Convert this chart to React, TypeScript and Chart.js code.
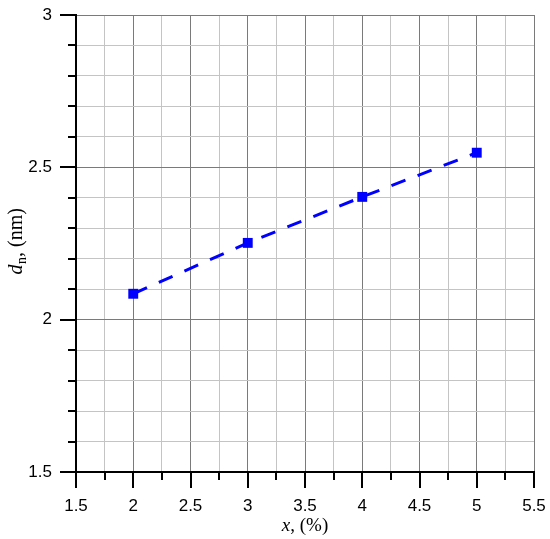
import React, { useEffect, useRef } from "react";
import { Chart, registerables } from "chart.js";

Chart.register(...registerables);

// ---- data ----
const xValues = [2, 3, 4, 5];
const dnValues = [2.085, 2.252, 2.403, 2.548];

// ---- axes ----
const xMin = 1.5;
const xMax = 5.5;
const xStep = 0.25;
const xLabeledTicks = [1.5, 2, 2.5, 3, 3.5, 4, 4.5, 5, 5.5];
const yMin = 1.5;
const yMax = 3;
const yStep = 0.1;
const yLabeledTicks = [1.5, 2, 2.5, 3];

const findLabeled = (v: number, list: number[]) =>
  list.find((t) => Math.abs(t - v) < 1e-6);

const SANS = '"Liberation Sans", Arial, sans-serif';
const SERIF = '"Liberation Serif", "Times New Roman", serif';

const customAxisPlugin = {
  id: "customAxis",
  afterDraw(chart: any) {
    const ctx = chart.ctx;
    const area = chart.chartArea;
    const xs = chart.scales.x;
    const ys = chart.scales.y;
    ctx.save();
    ctx.strokeStyle = "#000";
    ctx.lineWidth = 2;
    // y tick marks
    ys.ticks.forEach((t: any) => {
      const major = findLabeled(t.value, yLabeledTicks) !== undefined;
      const len = major ? 16 : 8;
      const py = Math.round(ys.getPixelForValue(t.value));
      ctx.beginPath();
      ctx.moveTo(area.left - len, py);
      ctx.lineTo(area.left, py);
      ctx.stroke();
    });
    // x tick marks
    xs.ticks.forEach((t: any) => {
      const major = findLabeled(t.value, xLabeledTicks) !== undefined;
      const len = major ? 16 : 8;
      const px = Math.round(xs.getPixelForValue(t.value));
      ctx.beginPath();
      ctx.moveTo(px, area.bottom);
      ctx.lineTo(px, area.bottom + len);
      ctx.stroke();
    });

    ctx.fillStyle = "#000";
    // x title: "x, (%)"
    const cx = (area.left + area.right) / 2;
    ctx.textBaseline = "alphabetic";
    ctx.textAlign = "left";
    ctx.font = `italic 19px ${SERIF}`;
    const wx = ctx.measureText("x").width;
    ctx.font = `19px ${SERIF}`;
    const wrest = ctx.measureText(", (%)").width;
    const sx = cx - (wx + wrest) / 2;
    const by = 531;
    ctx.font = `italic 19px ${SERIF}`;
    ctx.fillText("x", sx, by);
    ctx.font = `19px ${SERIF}`;
    ctx.fillText(", (%)", sx + wx, by);

    // y title: "d_n, (nm)"
    const cy = (area.top + area.bottom) / 2 - 2;
    ctx.translate(22, cy);
    ctx.rotate(-Math.PI / 2);
    ctx.font = `italic 20px ${SERIF}`;
    const wd = ctx.measureText("d").width;
    ctx.font = `14px ${SERIF}`;
    const wn = ctx.measureText("n").width;
    ctx.font = `20px ${SERIF}`;
    const wr = ctx.measureText(", (nm)").width;
    const tx = -(wd + wn + wr) / 2;
    ctx.font = `italic 20px ${SERIF}`;
    ctx.fillText("d", tx, 0);
    ctx.font = `14px ${SERIF}`;
    ctx.fillText("n", tx + wd + 0.5, 4);
    ctx.font = `20px ${SERIF}`;
    ctx.fillText(", (nm)", tx + wd + wn + 0.5, 0);
    ctx.restore();
  },
};

export default function App() {
  const ref = useRef<HTMLCanvasElement | null>(null);

  useEffect(() => {
    if (!ref.current) return;
    const points = xValues.map((x, i) => ({ x, y: dnValues[i] }));
    const chart = new Chart(ref.current, {
      type: "line",
      data: {
        datasets: [
          {
            data: points,
            borderColor: "#0000ff",
            borderWidth: 3,
            borderDash: [15, 13],
            pointStyle: "rect",
            pointRadius: 7,
            pointBorderWidth: 0,
            pointBackgroundColor: "#0000ff",
            fill: false,
            tension: 0,
          },
        ],
      },
      options: {
        responsive: false,
        animation: false,
        layout: { padding: { left: 0, right: 16, top: 15, bottom: 0 } },
        plugins: { legend: { display: false }, tooltip: { enabled: false } },
        scales: {
          x: {
            type: "linear",
            min: xMin,
            max: xMax,
            ticks: {
              stepSize: xStep,
              autoSkip: false,
              maxRotation: 0,
              minRotation: 0,
              padding: 24,
              color: "#000",
              font: { family: SANS, size: 17 },
              callback: (v: any) => {
                const t = findLabeled(Number(v), xLabeledTicks);
                return t === undefined ? "" : String(t);
              },
            },
            grid: {
              drawTicks: false,
              lineWidth: 1,
              color: (c: any) =>
                findLabeled(c.tick.value, xLabeledTicks) !== undefined ? "#7a7a7a" : "#c4c4c4",
            },
            border: { display: true, color: "#000", width: 2 },
            afterFit: (s: any) => {
              s.height = 67;
              s.paddingLeft = 0;
              s.paddingRight = 0;
            },
          },
          y: {
            type: "linear",
            min: yMin,
            max: yMax,
            ticks: {
              stepSize: yStep,
              autoSkip: false,
              padding: 24,
              color: "#000",
              font: { family: SANS, size: 17 },
              callback: (v: any) => {
                const t = findLabeled(Number(v), yLabeledTicks);
                return t === undefined ? "" : String(t);
              },
            },
            grid: {
              drawTicks: false,
              lineWidth: 1,
              color: (c: any) =>
                findLabeled(c.tick.value, yLabeledTicks) !== undefined ? "#7a7a7a" : "#c4c4c4",
            },
            border: { display: true, color: "#000", width: 2 },
            afterFit: (s: any) => {
              s.width = 76;
              s.paddingTop = 0;
              s.paddingBottom = 0;
            },
          },
        },
      },
      plugins: [customAxisPlugin],
    } as any);
    return () => chart.destroy();
  }, []);

  return (
    <div style={{ position: "absolute", left: 0, top: 0, width: 550, height: 539, background: "#fff" }}>
      <canvas ref={ref} width={550} height={539} style={{ display: "block" }} />
    </div>
  );
}
